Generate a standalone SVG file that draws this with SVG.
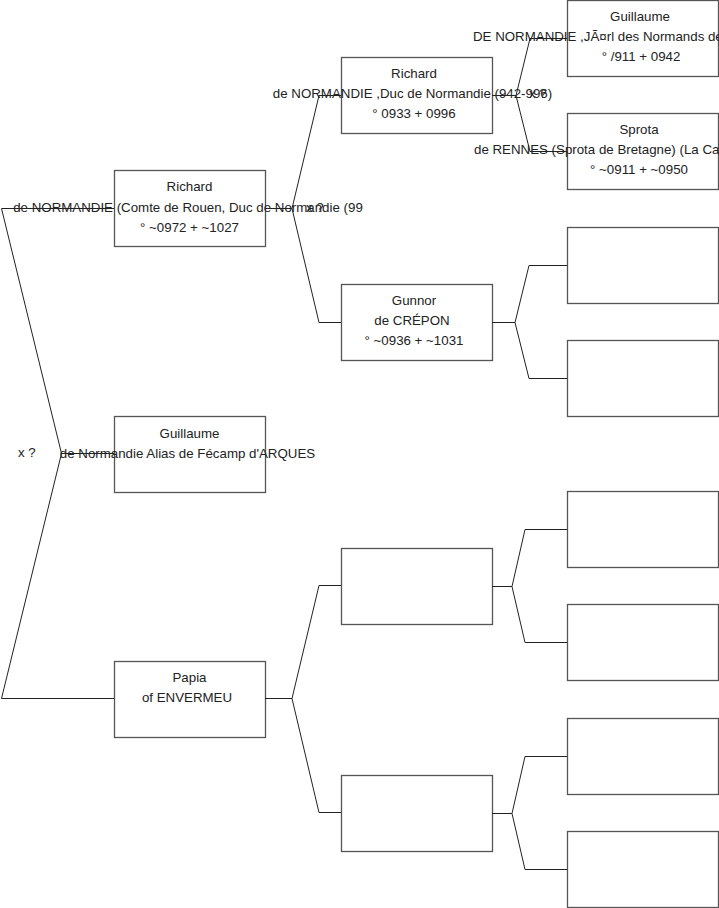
<svg xmlns="http://www.w3.org/2000/svg" width="719" height="908" viewBox="0 0 719 908">
<style>
.box{fill:#fff;stroke:#555;stroke-width:1.3}
.t{font-family:"Liberation Sans",Arial,sans-serif;font-size:13.3px;fill:#222;text-anchor:middle}
.ts{font-family:"Liberation Sans",Arial,sans-serif;font-size:13.3px;fill:#222;text-anchor:start}
.c{fill:none;stroke:#222;stroke-width:1}
</style>
<rect width="719" height="908" fill="#fff"/>
<g id="n-richard1">
<rect class="box" x="114.5" y="170.5" width="151" height="76"/>
<text class="t" x="189.5" y="191">Richard</text>
<text class="t" x="188" y="212">de NORMANDIE (Comte de Rouen, Duc de Normandie (99</text>
<text class="t" x="189.5" y="232">° ~0972 + ~1027</text>
</g>
<g id="n-guillaume1">
<rect class="box" x="114.5" y="416.5" width="151" height="76"/>
<text class="t" x="189.5" y="438">Guillaume</text>
<text class="t" x="187.5" y="458">de Normandie Alias de Fécamp d'ARQUES</text>
</g>
<g id="n-papia">
<rect class="box" x="114.5" y="661.5" width="151" height="76"/>
<text class="t" x="189.5" y="682">Papia</text>
<text class="t" x="187" y="702">of ENVERMEU</text>
</g>
<g id="n-richard2">
<rect class="box" x="341.5" y="57.5" width="151" height="76"/>
<text class="t" x="414" y="78">Richard</text>
<text class="t" x="412.5" y="98">de NORMANDIE ,Duc de Normandie (942-996)</text>
<text class="t" x="414" y="118">° 0933 + 0996</text>
</g>
<g id="n-gunnor">
<rect class="box" x="341.5" y="284.5" width="151" height="76"/>
<text class="t" x="414" y="305">Gunnor</text>
<text class="t" x="412" y="325">de CRÉPON</text>
<text class="t" x="414" y="345">° ~0936 + ~1031</text>
</g>
<g id="n-blank2a"><rect class="box" x="341.5" y="548.5" width="151" height="76"/></g>
<g id="n-blank2b"><rect class="box" x="341.5" y="775.5" width="151" height="76"/></g>
<g id="n-guillaume3">
<rect class="box" x="567.5" y="0.5" width="151" height="76"/>
<text class="t" x="640" y="21">Guillaume</text>
<text class="ts" x="473" y="41">DE NORMANDIE ,JÃ¤rl des Normands de</text>
<text class="t" x="641" y="61">° /911 + 0942</text>
</g>
<g id="n-sprota">
<rect class="box" x="567.5" y="113.5" width="151" height="76"/>
<text class="t" x="639" y="134">Sprota</text>
<text class="ts" x="474" y="154">de RENNES (Sprota de Bretagne) (La Ca</text>
<text class="t" x="639" y="174">° ~0911 + ~0950</text>
</g>
<g id="n-blank3a"><rect class="box" x="567.5" y="227.5" width="151" height="76"/></g>
<g id="n-blank3b"><rect class="box" x="567.5" y="340.5" width="151" height="76"/></g>
<g id="n-blank3c"><rect class="box" x="567.5" y="491.5" width="151" height="76"/></g>
<g id="n-blank3d"><rect class="box" x="567.5" y="604.5" width="151" height="76"/></g>
<g id="n-blank3e"><rect class="box" x="567.5" y="718.5" width="151" height="76"/></g>
<g id="n-blank3f"><rect class="box" x="567.5" y="831.5" width="151" height="76"/></g>
<g id="connectors">
<polyline class="c" points="114,208.5 1.5,208.5 61.5,453.5 1.5,698.5 114,698.5"/>
<line class="c" x1="61.5" y1="453.5" x2="114" y2="453.5"/>
<polyline class="c" points="341,95.5 319,95.5 292,208.5 319,322.5 341,322.5"/>
<line class="c" x1="265" y1="208.5" x2="292" y2="208.5"/>
<polyline class="c" points="341,585.5 319,585.5 292,698.5 319,812.5 341,812.5"/>
<line class="c" x1="265" y1="698.5" x2="292" y2="698.5"/>
<polyline class="c" points="567,38.5 530,38.5 516,95.5 530,151.5 567,151.5"/>
<line class="c" x1="492" y1="95.5" x2="516" y2="95.5"/>
<polyline class="c" points="567,265.5 529,265.5 515,322.5 529,378.5 567,378.5"/>
<line class="c" x1="492" y1="322.5" x2="515" y2="322.5"/>
<polyline class="c" points="567,529.5 525,529.5 512,586.5 525,642.5 567,642.5"/>
<line class="c" x1="492" y1="586.5" x2="512" y2="586.5"/>
<polyline class="c" points="567,756.5 525,756.5 512,813.5 525,869.5 567,869.5"/>
<line class="c" x1="492" y1="813.5" x2="512" y2="813.5"/>
<text class="ts" x="18" y="457">x ?</text>
<text class="ts" x="306" y="212">x ?</text>
<text class="ts" x="529" y="98">x ?</text>
</g>
</svg>
